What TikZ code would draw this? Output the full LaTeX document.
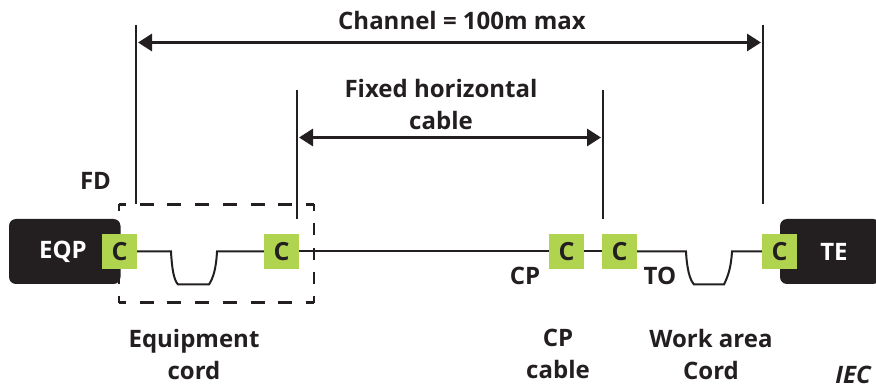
\documentclass[tikz,border=0pt]{standalone}
\usepackage{fontspec}
\setmainfont{Open Sans}
\usetikzlibrary{arrows.meta}
\definecolor{ink}{HTML}{231F20}
\definecolor{lime}{HTML}{B0D450}
\tikzset{
  lbl/.style={font=\fontsize{24}{32}\selectfont\bfseries, text=ink, align=center, inner sep=0pt},
  conn/.style={fill=lime, minimum size=35pt, inner sep=0pt, font=\fontsize{25}{28}\selectfont\bfseries, text=ink},
  wire/.style={draw=ink, line width=2pt},
  dim/.style={draw=ink, line width=3pt, {Triangle[length=14pt,width=17pt]}-{Triangle[length=14pt,width=17pt]}},
  tick/.style={draw=ink, line width=2pt},
  term/.style={fill=ink, rounded corners=7pt, inner sep=0pt},
  termlbl/.style={font=\fontsize{24}{28}\selectfont\bfseries, text=white, inner sep=0pt},
  hdash/.style={draw=ink, line width=2.6pt, dash pattern=on 14pt off 13.7pt, dash phase=7pt},
  vdash/.style={draw=ink, line width=2.6pt, dash pattern=on 12pt off 12.3pt, dash phase=5.3pt}
}
\begin{document}
\begin{tikzpicture}[x=1pt,y=-1pt]
\useasboundingbox (0,0) rectangle (876,390);
\path[term] (9,219) rectangle (120.5,284);
\path[term] (780,219) rectangle (880,284);
\node[termlbl] at (63,252) {EQP};
\node[termlbl] at (834,252) {TE};
% dashed box
\coordinate (nw) at (119,204.5); \coordinate (ne) at (314,204.5);
\coordinate (sw) at (119,302.7); \coordinate (se) at (314,302.7);
\draw[hdash] (nw) -- (ne);
\draw[hdash] (sw) -- (se);
\draw[vdash] (nw) -- (sw);
\draw[vdash] (ne) -- (se);
\node[conn] (c1) at (119.5,251.5) {C};
\node[conn] (c2) at (281.5,251.5) {C};
\node[conn] (c3) at (566.5,251.5) {C};
\node[conn] (c4) at (619.5,251.5) {C};
\node[conn] (c5) at (779.5,251.5) {C};
% cords
\draw[wire] (c1.east) -- (171,251.5) .. controls (172,270) and (174,280) .. (178,284.5) -- (209,284.5) .. controls (213,278) and (216,270) .. (217,251.5) -- (c2.west);
\draw[wire] (c2.east) -- (c3.west);
\draw[wire] (c3.east) -- (c4.west);
\draw[wire] (c4.east) -- (686,251.5) .. controls (687,270) and (690,280) .. (694,284.5) -- (724,284.5) .. controls (728,276) and (731,268) .. (732,251.5) -- (c5.west);
% extension lines
\coordinate (a1) at (135.5,25); \coordinate (a2) at (135.5,204);
\coordinate (b1) at (297,90); \coordinate (b2) at (297,219);
\coordinate (d1) at (603,90);   \coordinate (d2) at (603,219);
\coordinate (e1) at (763,25);   \coordinate (e2) at (763,204);
\draw[tick] (a1) -- (a2);
\draw[tick] (b1) -- (b2);
\draw[tick] (d1) -- (d2);
\draw[tick] (e1) -- (e2);
\coordinate (ca) at (138,42.5); \coordinate (cb) at (761,42.5);
\coordinate (fa) at (299,137.5); \coordinate (fb) at (601,137.5);
\draw[dim] (ca) -- (cb);
\draw[dim] (fa) -- (fb);
% labels
\node[lbl] (t1) at (462,21) {Channel = 100m max};
\node[lbl] (t2) at (441,104.5) {Fixed horizontal\\cable};
\node[lbl] (t3) at (95.5,181) {FD};
\node[lbl] (t4) at (525,276) {CP};
\node[lbl] (t5) at (660,276) {TO};
\node[lbl] (t6) at (194,354) {Equipment\\cord};
\node[lbl] (t7) at (558,354) {CP\\cable};
\node[lbl] (t8) at (711,354) {Work area\\Cord};
\node[lbl, font=\fontsize{24}{26}\selectfont\bfseries\itshape] (t9) at (853,375) {IEC};
\end{tikzpicture}
\end{document}
